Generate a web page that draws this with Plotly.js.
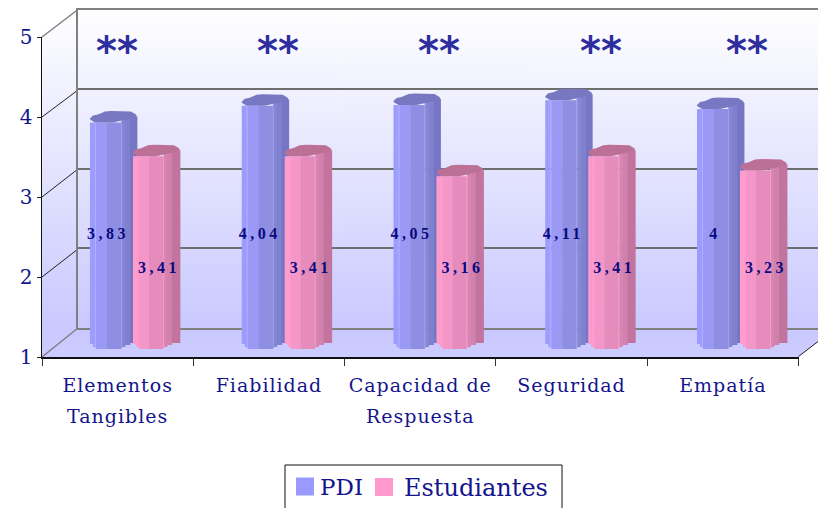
<!DOCTYPE html>
<html><head><meta charset="utf-8">
<script src="https://cdn.plot.ly/plotly-3.0.1.min.js"></script>
<style>
html,body{margin:0;padding:0;background:#fff;overflow:hidden}
.textpoint text{letter-spacing:3.5px}
.legendtext{transform:translateX(-5px)}
.xtick text,.x4tick text{letter-spacing:1px}
</style></head><body><div id="chart" style="width:818px;height:508px"></div>
<script>
const categoriesTop=['Elementos','Fiabilidad','Capacidad de','Seguridad','Empatía'];
const categoriesBottom=['Tangibles','','Respuesta','',''];
const pdi=[3.83,4.04,4.05,4.11,4];
const estudiantes=[3.41,3.41,3.16,3.41,3.23];
const pdiLabels=['3,83','4,04','4,05','4,11','4'];
const estLabels=['3,41','3,41','3,16','3,41','3,23'];
const yTicks=[1,2,3,4,5];
const stars=['**','**','**','**','**'];
const starX=[117,278,439,601,747];

const W=818,H=508,NAVY='#14148c',FONT='"DejaVu Serif",serif';
const PXX=151.75,PXY=80;
const px=x=>x/W, py=y=>(H-y)/H;
const idx=categoriesTop.map((_,i)=>i+0.5);

const blueFacets=[[0,3,'#9c9cff',5,0],[3,2,'#9c9cff',2,0],[5,1,'#b0b0ff',1,0],[6,11,'#9a9af6',0,0],[17,14,'#8e8ee2',0,0],[31,1,'#a0a0e8',1,2],[32,3,'#8686d8',2,3],[35,5,'#8080d0',4,4],[40,7,'#7676c4',6,6]];
const pinkFacets=[[0,3,'#ff9ccc',5,0],[3,3,'#ff9ccc',2,0],[6,10,'#f596c8',0,0],[16,14,'#e68cbc',0,0],[30,1,'#f0a0c8',1,2],[31,3,'#d885b2',2,3],[34,5,'#d280ac',4,4],[39,8,'#c2749e',6,6]];
const capShape=[[0,-4],[3,-7],[8,-8],[15,-11],[21,-11.5],[41,-11],[46,-8],[47,-6],[41,-4],[33,-2],[23,0],[5,0],[0,-3]];

const traces=[];
function addSeries(values,facets,left,capColor){
  facets.forEach(f=>{
    traces.push({type:'bar',x:idx,y:values.map(v=>v-1-f[3]/PXY+f[4]/PXY),base:values.map(()=>1+f[3]/PXY),
      width:(f[1]+0.4)/PXX,offset:(left+f[0])/PXX,marker:{color:f[2],line:{width:0}},
      xaxis:'x3',yaxis:'y3',showlegend:false,hoverinfo:'skip'});
  });
  values.forEach((v,i)=>{
    traces.push({type:'scatter',mode:'lines',fill:'toself',fillcolor:capColor,line:{width:0,color:capColor},
      x:capShape.map(p=>idx[i]+(left+p[0])/PXX),y:capShape.map(p=>v-p[1]/PXY),
      xaxis:'x3',yaxis:'y3',showlegend:false,hoverinfo:'skip'});
  });
}
addSeries(pdi,blueFacets,-44,'#7777c2');
addSeries(estudiantes,pinkFacets,-1,'#bc7096');
function addLabels(labels,dx,yLevel){
  traces.push({type:'scatter',mode:'text',x:idx.map(v=>v+dx/PXX),y:labels.map(()=>yLevel),text:labels,
    textposition:'middle center',textfont:{family:'"Liberation Serif",serif',size:16,color:'#0a0a80',weight:700},
    xaxis:'x3',yaxis:'y3',showlegend:false,hoverinfo:'skip'});
}
addLabels(pdiLabels,-26,2.42);
addLabels(estLabels,25,2.0);
const ghost=(xa,ya)=>({type:'scatter',mode:'markers',x:[0.5],y:[-5],marker:{size:1,opacity:0},xaxis:xa,yaxis:ya,showlegend:false,hoverinfo:'skip'});
traces.unshift(ghost('x2','y2'));
traces.push(ghost('x4','y'));
traces.push({type:'scatter',mode:'markers',name:'PDI',legend:'legend',x:[0.5],y:[-5],marker:{symbol:'square',size:16,color:'#9999ff',line:{width:2,color:'#9999ff'}},xaxis:'x',yaxis:'y',hoverinfo:'skip'});
traces.push({type:'scatter',mode:'markers',name:'Estudiantes',legend:'legend2',x:[0.5],y:[-5],marker:{symbol:'square',size:16,color:'#ff99cc',line:{width:2,color:'#ff99cc'}},xaxis:'x',yaxis:'y',hoverinfo:'skip'});

const cv=document.createElement('canvas');cv.width=4;cv.height=256;
const g=cv.getContext('2d');const gr=g.createLinearGradient(0,0,0,256);
gr.addColorStop(0,'#ffffff');gr.addColorStop(0.92,'#c9c9ff');gr.addColorStop(1,'#ccccff');
g.fillStyle=gr;g.fillRect(0,0,4,256);

const path=pts=>'M'+pts.map(p=>px(p[0])+','+py(p[1])).join('L')+'Z';
const line=(a,b,color,width)=>({type:'line',xref:'paper',yref:'paper',x0:px(a[0]),y0:py(a[1]),x1:px(b[0]),y1:py(b[1]),line:{color,width},layer:'below'});
const shapes=[
 {type:'path',xref:'paper',yref:'paper',path:path([[40,5],[78,5],[78,9],[42,37],[40,37]]),fillcolor:'#fff',line:{width:0},layer:'below'},
 {type:'path',xref:'paper',yref:'paper',path:path([[798.5,357],[820,340],[820,360]]),fillcolor:'#fff',line:{width:0},layer:'below'},
 line([42,37],[78,9.5],'#808080',1.5),
 line([42,117],[78,90],'#222',1),
 line([42,197],[78,169],'#222',1),
 line([42,277],[78,249],'#222',1),
 line([42,357],[78,328],'#808080',1.5),
 line([798.5,356.5],[818,341.5],'#222',1),
 {type:'rect',xref:'paper',yref:'paper',x0:px(285),x1:px(562),y0:py(465),y1:py(520),line:{color:'#111',width:1},fillcolor:'rgba(0,0,0,0)',layer:'above'}
];
const annotations=stars.map((s,i)=>({xref:'paper',yref:'paper',x:px(starX[i]),y:py(51),xanchor:'center',yanchor:'middle',showarrow:false,text:s,
  font:{family:'"DejaVu Sans",sans-serif',size:40,color:'#2e2e9e',weight:700}}));

const layout={width:W,height:H,margin:{l:0,r:0,t:0,b:0,autoexpand:false},paper_bgcolor:'#fff',plot_bgcolor:'rgba(0,0,0,0)',
 barmode:'overlay',showlegend:true,shapes,annotations,
 images:[{source:cv.toDataURL(),xref:'paper',yref:'paper',x:px(42),y:py(9),sizex:px(776),sizey:(357-9)/H,sizing:'stretch',xanchor:'left',yanchor:'top',layer:'below'}],
 legend:{x:px(285),y:py(465),xanchor:'left',yanchor:'top',bgcolor:'rgba(0,0,0,0)',borderwidth:0,font:{family:FONT,size:23,color:NAVY}},
 legend2:{x:px(364),y:py(465),xanchor:'left',yanchor:'top',bgcolor:'rgba(0,0,0,0)',borderwidth:0,font:{family:FONT,size:24,color:NAVY}},
 xaxis:{domain:[px(42),px(798.5)],range:[0,5],anchor:'y',tickmode:'array',tickvals:idx,ticktext:categoriesTop,ticks:'',ticklabelstandoff:10,
   tickfont:{family:FONT,size:19,color:NAVY},showgrid:false,zeroline:false,showline:true,linecolor:'#111',linewidth:2,
   minor:{tickmode:'array',tickvals:[0,1,2,3,4,5],ticks:'outside',ticklen:7,tickcolor:'#333',tickwidth:1,showgrid:false}},
 yaxis:{domain:[py(357),py(37)],range:[1,5],anchor:'x',tickmode:'array',tickvals:yTicks,ticktext:yTicks.map(String),ticks:'outside',ticklen:4,tickcolor:'#222',
   tickfont:{family:FONT,size:20,color:NAVY},showgrid:false,zeroline:false,showline:true,linecolor:'#111',linewidth:1.5},
 xaxis2:{domain:[px(78),1],range:[0,740/151.2],anchor:'y2',showticklabels:false,ticks:'',showgrid:false,zeroline:false,showline:true,mirror:true,linecolor:'#808080',linewidth:2},
 yaxis2:{domain:[py(328),py(9.5)],range:[1,5],anchor:'x2',tickvals:yTicks,tickmode:'array',showticklabels:false,ticks:'',showgrid:true,gridcolor:'#6e6e6e',gridwidth:2,zeroline:false,showline:true,linecolor:'#808080',linewidth:2},
 xaxis3:{domain:[px(58.1),px(816.9)],range:[0,5],anchor:'y3',visible:false},
 yaxis3:{domain:[py(349),py(29)],range:[1,5],anchor:'x3',visible:false},
 xaxis4:{domain:[px(42),px(798.5)],range:[0,5],anchor:'y',overlaying:'x',side:'bottom',tickmode:'array',tickvals:idx,ticktext:categoriesBottom,ticks:'',ticklabelstandoff:46,
   tickfont:{family:FONT,size:19,color:NAVY},showgrid:false,zeroline:false,showline:false}
};
Plotly.newPlot('chart',traces,layout,{displayModeBar:false,staticPlot:true});
</script></body></html>
